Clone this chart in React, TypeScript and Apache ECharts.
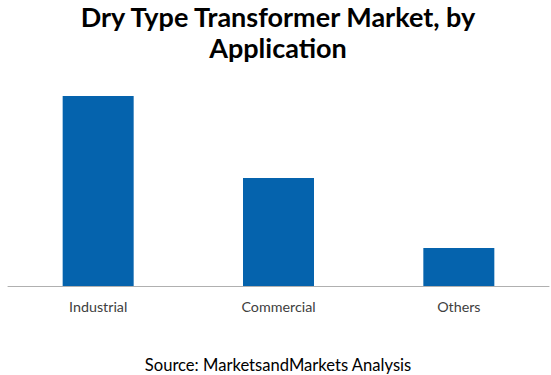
import React, { useEffect, useRef } from "react";
import * as echarts from "echarts";

const categories = ["Industrial", "Commercial", "Others"];
const values = [190, 108, 38];
const titleLines = ["Dry Type Transformer Market, by", "Application"];
const sourceText = "Source: MarketsandMarkets Analysis";

export default function App() {
  const ref = useRef<HTMLDivElement>(null);
  useEffect(() => {
    if (!ref.current) return;
    const chart = echarts.init(ref.current, null, { renderer: "svg" });
    const titleStyle = {
      fontFamily: "Lato",
      fontWeight: "bold",
      fontSize: 27,
      fill: "#000000",
      align: "center",
      verticalAlign: "middle",
    };
    chart.setOption({
      animation: false,
      backgroundColor: "#ffffff",
      graphic: [
        {
          type: "text",
          x: 278,
          y: 16.8,
          style: { ...titleStyle, text: titleLines[0] },
        },
        {
          type: "text",
          x: 278,
          y: 47.8,
          style: { ...titleStyle, text: titleLines[1] },
        },
        {
          type: "text",
          x: 278,
          y: 365,
          style: {
            text: sourceText,
            fontFamily: "Lato",
            fontSize: 16.6,
            fill: "#000000",
            align: "center",
            verticalAlign: "middle",
          },
        },
      ],
      grid: { left: 8, right: 2, top: 86, bottom: 89, containLabel: false },
      xAxis: {
        type: "category",
        data: categories,
        axisLine: { lineStyle: { color: "#b0b0b0", width: 1 } },
        axisTick: { show: false },
        axisLabel: {
          fontFamily: "Lato",
          fontSize: 14.3,
          color: "#404040",
          margin: 13,
        },
      },
      yAxis: {
        type: "value",
        min: 0,
        max: 200,
        show: false,
        splitLine: { show: false },
      },
      series: [
        {
          type: "bar",
          data: values,
          barWidth: 71,
          itemStyle: { color: "#0563AD" },
        },
      ],
    });
    return () => chart.dispose();
  }, []);
  return (
    <div
      ref={ref}
      style={{ position: "fixed", left: 0, top: 0, width: 551, height: 375 }}
    />
  );
}
